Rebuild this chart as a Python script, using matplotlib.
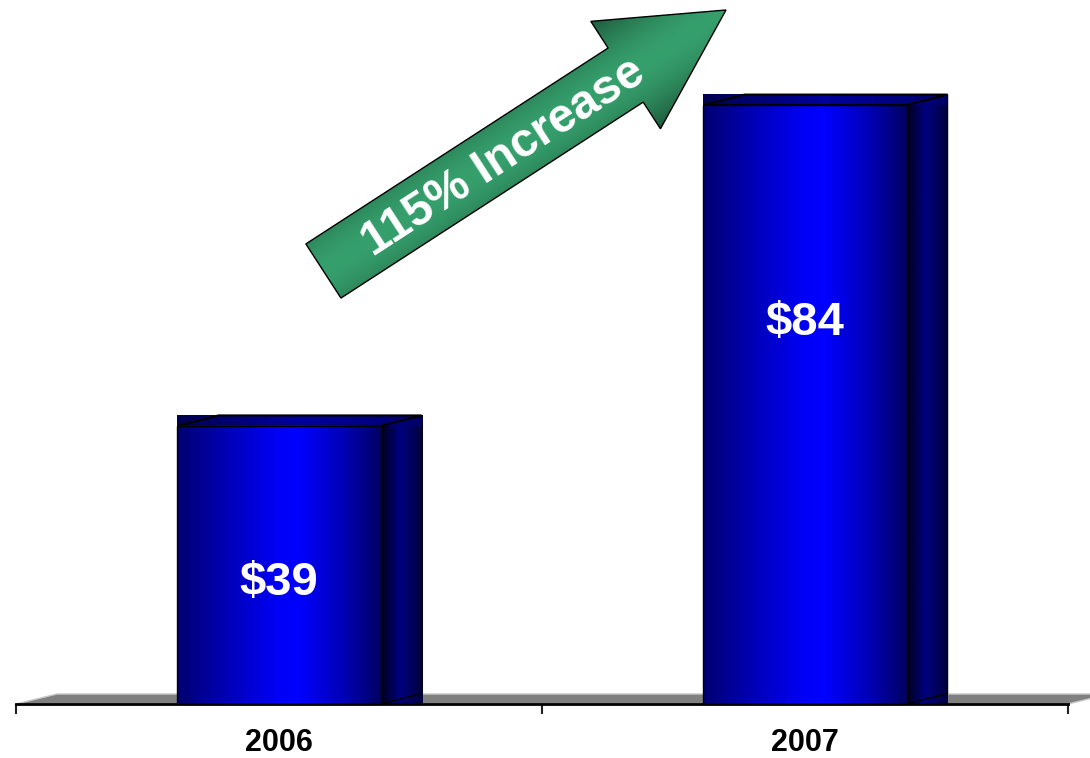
import numpy as np
import matplotlib
matplotlib.use('Agg')
import matplotlib.pyplot as plt
from matplotlib.colors import LinearSegmentedColormap, to_rgb
from matplotlib.patches import Polygon

years = ['2006', '2007']
values = [39, 84]
value_labels = ['$39', '$84']
label_heights = [17.0, 53.4]     # where the value text sits inside each bar
increase_text = '115% Increase'

plt.rcParams['font.family'] = ['Liberation Sans', 'DejaVu Sans']
plt.rcParams['font.weight'] = 'bold'

W, H = 1090, 758
fig = plt.figure(figsize=(W / 100, H / 100), dpi=100)
ax = fig.add_axes([16 / W, 54 / H, 1052 / W, 704 / H])

px_per_unit = 7.13
ymax = 704 / px_per_unit
bar_w = 0.386
dx = 41 / 526               # depth offset of the 3D faces, x data units
dy = 10.5 / px_per_unit     # depth offset, y data units
floor_dy = 10 / px_per_unit


def gradient_face(ax, colors, extent, poly, zorder, lw=1.0):
    cmap = LinearSegmentedColormap.from_list('face', colors)
    grad = np.linspace(0, 1, 256).reshape(1, -1)
    outline = Polygon(poly, closed=True, facecolor='none', edgecolor='black',
                      lw=lw, zorder=zorder + 0.1, clip_on=False)
    ax.add_patch(outline)
    im = ax.imshow(grad, cmap=cmap, extent=extent, aspect='auto', origin='lower',
                   interpolation='bicubic', zorder=zorder, clip_on=False)
    im.set_clip_path(outline)


front_cols = [(0, '#000070'), (0.25, '#0000b8'), (0.5, '#0000f8'), (0.6, '#0000ff'),
              (0.82, '#0000b4'), (1, '#000062')]
side_cols = [(0, '#000018'), (0.45, '#000080'), (1, '#00003c')]
top_cols = [(0, '#000050'), (0.5, '#00009c'), (1, '#00006a')]

# floor under the bars
floor = Polygon([(0, 0), (2, 0), (2 + dx, floor_dy), (dx, floor_dy)],
                closed=True, facecolor='#808080', edgecolor='#c8c8c8', lw=1.0,
                zorder=1, clip_on=False)
ax.add_patch(floor)

for i, v in enumerate(values):
    x0 = i + 0.5 - bar_w / 2
    x1 = x0 + bar_w
    gradient_face(ax, front_cols, (x0, x1, 0, v),
                  [(x0, 0), (x1, 0), (x1, v), (x0, v)], 3)
    gradient_face(ax, side_cols, (x1, x1 + dx, 0, v + dy),
                  [(x1, 0), (x1 + dx, dy), (x1 + dx, v + dy), (x1, v)], 2)
    gradient_face(ax, top_cols, (x0, x1 + dx, v, v + dy),
                  [(x0, v), (x1, v), (x1 + dx, v + dy), (x0 + dx, v + dy)], 2, lw=1.5)
    ax.text(i + 0.5, label_heights[i], value_labels[i], color='white',
            fontsize=34, fontweight='bold', ha='center', va='center',
            parse_math=False, zorder=5)

ax.set_xlim(0, 2)
ax.set_ylim(0, ymax)
ax.set_xticks([0, 1, 2])
ax.set_xticklabels([])
ax.set_xticks([0.5, 1.5], minor=True)
ax.set_xticklabels(years, minor=True, fontsize=22, fontweight='bold')
ax.tick_params(axis='x', which='major', length=7, width=1.5, color='#222222', direction='out')
ax.tick_params(axis='x', which='minor', length=0, pad=17)
ax.set_yticks([])
for s in ['left', 'right', 'top']:
    ax.spines[s].set_visible(False)
ax.spines['bottom'].set_linewidth(2)
ax.spines['bottom'].set_zorder(4)
ax.patch.set_visible(False)

# growth arrow, drawn in figure pixel coordinates (y downward)
ov = fig.add_axes([0, 0, 1, 1])
ov.set_xlim(0, W)
ov.set_ylim(H, 0)
ov.axis('off')

tail = np.array([323.4, 271.0])
tip = np.array([726.0, 10.0])
shaft_w, head_w, head_len = 64.5, 128.0, 119.6
u = (tip - tail) / np.linalg.norm(tip - tail)
n = np.array([-u[1], u[0]])
if n[1] < 0:
    n = -n
neck = tip - u * head_len
pts = [tail - n * shaft_w / 2, neck - n * shaft_w / 2, neck - n * head_w / 2, tip,
       neck + n * head_w / 2, neck + n * shaft_w / 2, tail + n * shaft_w / 2]
arrow = Polygon(pts, closed=True, facecolor='none', edgecolor='black', lw=1.0, zorder=6)
ov.add_patch(arrow)

pts_a = np.array(pts)
xmin, ymin = pts_a.min(axis=0)
xmax, ymax_px = pts_a.max(axis=0)
xx, yy = np.meshgrid(np.linspace(xmin, xmax, 400), np.linspace(ymin, ymax_px, 400))
d = np.abs((xx - tail[0]) * n[0] + (yy - tail[1]) * n[1]) / (head_w / 2)
t = np.clip(d, 0, 1) ** 1.6
c_mid = np.array(to_rgb('#36a06d'))
c_edge = np.array(to_rgb('#1d5a3b'))
img = c_mid[None, None, :] * (1 - t[..., None]) + c_edge[None, None, :] * t[..., None]
im = ov.imshow(img, extent=(xmin, xmax, ymax_px, ymin), origin='upper',
               aspect='auto', interpolation='bilinear', zorder=5)
im.set_clip_path(arrow)

angle = np.degrees(np.arctan2(-(tip[1] - tail[1]), tip[0] - tail[0]))
tc = tail + u * 213 + n * 3
ov.text(tc[0], tc[1], increase_text, color='white', fontsize=34.5, fontweight='bold',
        rotation=angle, rotation_mode='anchor', ha='center', va='center', zorder=7)

fig.savefig('out.png', dpi=100)
